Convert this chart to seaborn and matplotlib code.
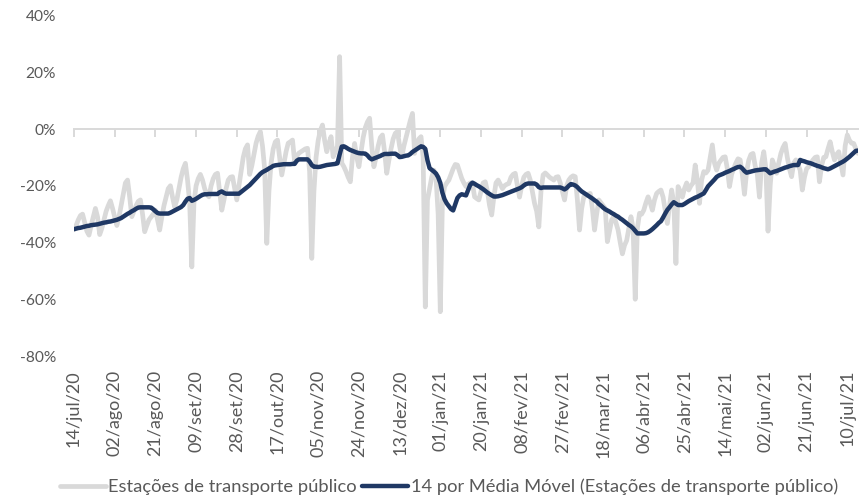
import numpy as np
import pandas as pd
import matplotlib
matplotlib.use("Agg")
import matplotlib.pyplot as plt
import matplotlib.dates as mdates
import seaborn as sns

start_date = "2020-07-14"

gray_values = [
    -35.5, -34, -32, -30.5, -30, -33, -36, -37.4, -34, -31,
    -28, -31, -37.2, -35, -32, -29, -27, -25.3, -28, -31,
    -34, -31, -27, -23, -19, -18, -24, -30.9, -29, -27,
    -25.5, -25, -30, -36.2, -34, -32, -31, -30, -28.6, -32,
    -35.6, -31, -27, -24, -21, -20, -24, -27.5, -25, -21,
    -17, -14, -12.1, -18, -26, -48.6, -26, -20, -17.5, -16,
    -18, -21, -23, -23.9, -20, -17.5, -16, -15.6, -22, -28.6,
    -25, -21, -18, -17, -16.8, -21, -25, -20, -15, -10,
    -7, -5.6, -16, -13, -9, -5, -2.5, -0.9, -6, -14,
    -40.3, -22, -12, -7, -4.5, -3.9, -10, -16.2, -12, -8,
    -5, -4.5, -3.9, -11.5, -9.5, -8.5, -8, -7.5, -7, -6.8,
    -15, -45.6, -22, -10, -4, -0.5, 1.4, -4, -8, -5,
    -2.7, -9.8, -8, -6, 25.5, -12, -13.3, -15, -17, -18.6,
    -10, -5.1, -10, -13.3, -8, -3, 0.5, 2.5, 3.8, -6,
    -13.3, -10, -6, -3, -2.1, -8, -15.6, -11, -7, -3.5,
    -1.5, -0.9, -6, -9.8, -6, -3, 0, 3, 5.5, -8.6,
    -5, -3.5, -2.7, -10, -62.7, -25, -21, -17, -14.5, -17,
    -30, -64.4, -25, -20.3, -19, -18, -16, -14, -12.5, -12.7,
    -15, -17.4, -19, -20.3, -19.5, -19, -19.2, -23.9, -24.5, -25,
    -22, -19, -18.6, -22, -27, -30.3, -24, -19, -18, -19.5,
    -21, -20, -19.5, -19.2, -17, -16, -15.6, -20, -24, -20,
    -17, -16, -15.6, -18, -22, -26.2, -29, -34.5, -22, -16.2,
    -15.5, -16.2, -17, -17.5, -18, -17, -16.8, -19, -22, -25,
    -20, -18, -17, -16.5, -16.8, -25, -35.6, -28, -23.9, -23.5,
    -23, -22.7, -28, -35.6, -30, -25, -26, -27, -28, -39.7,
    -36, -32, -30.9, -33, -35.6, -40, -44, -41, -39.3, -35,
    -30.9, -35, -60, -35, -29.7, -30, -28.6, -26, -23.9, -26,
    -28.6, -25, -22.7, -22, -21.5, -24, -28.6, -33.3, -27, -21.5,
    -26, -47.4, -20.3, -22, -24, -21, -19, -21.5, -20, -19,
    -12.7, -18, -26.2, -18, -15, -15.5, -14.5, -10, -5.6, -12,
    -14.5, -12.1, -11, -10, -9.8, -14, -20.3, -16, -13.9, -12,
    -10.5, -10.9, -16, -23, -15, -11, -9, -8.6, -13, -16,
    -24, -12, -8, -14, -36, -20, -10.9, -13, -15.6, -12,
    -8.6, -6.5, -5.1, -10, -14, -16.8, -12, -10.9, -12.5, -14.5,
    -21.5, -17, -14, -13.3, -12, -10.9, -10, -9.8, -18.6, -13,
    -10, -9.8, -7, -4.5, -8, -10.9, -9, -8, -12, -16.2,
    -6, -2.1, -4, -5, -5.1, -7, -8.6,
]

ma_values = [
    -35.3, -35.1, -34.9, -34.8, -34.6, -34.4, -34.2, -34.1, -33.9, -33.8,
    -33.7, -33.6, -33.4, -33.2, -33.0, -32.9, -32.7, -32.6, -32.4, -32.2,
    -32.0, -31.7, -31.4, -30.9, -30.4, -29.9, -29.5, -29.0, -28.6, -28.1,
    -27.7, -27.6, -27.6, -27.6, -27.6, -27.6, -27.7, -28.3, -29.0, -29.6,
    -29.8, -29.8, -29.8, -29.8, -29.8, -29.5, -29.1, -28.7, -28.3, -27.9,
    -27.5, -26.8, -25.6, -24.6, -24.3, -25.3, -25.0, -24.6, -24.1, -23.6,
    -23.2, -23.0, -23.0, -22.9, -22.9, -22.9, -22.9, -22.9, -22.3, -22.0,
    -22.5, -22.8, -22.8, -22.8, -22.8, -22.8, -22.8, -22.8, -22.2, -21.6,
    -21.0, -20.4, -19.8, -19.0, -18.2, -17.4, -16.6, -15.8, -15.2, -14.8,
    -14.4, -13.9, -13.5, -13.0, -12.8, -12.7, -12.6, -12.5, -12.4, -12.4,
    -12.4, -12.4, -12.3, -12.3, -11.2, -10.7, -10.7, -10.7, -10.7, -10.7,
    -11.5, -12.7, -13.3, -13.3, -13.4, -13.3, -13.1, -12.9, -12.7, -12.6,
    -12.5, -12.4, -12.3, -12.1, -9.0, -6.2, -6.1, -6.5, -7.0, -7.4,
    -7.7, -8.0, -8.3, -8.5, -8.6, -8.6, -8.7, -9.3, -10.2, -10.7,
    -10.4, -10.1, -9.8, -9.5, -9.1, -8.8, -8.8, -8.8, -8.7, -8.7,
    -8.7, -9.2, -9.9, -9.8, -9.6, -9.4, -9.3, -8.8, -8.1, -7.6,
    -7.1, -6.6, -6.1, -6.3, -7.0, -11.0, -13.8, -14.4, -15.0, -15.7,
    -17.0, -19.0, -22.5, -24.8, -26.2, -27.2, -28.2, -28.7, -26.5, -24.3,
    -23.4, -23.0, -23.2, -23.4, -21.5, -19.6, -18.9, -19.3, -19.8, -20.2,
    -20.7, -21.2, -21.8, -22.4, -22.9, -23.4, -23.8, -23.8, -23.7, -23.5,
    -23.3, -23.0, -22.7, -22.4, -22.1, -21.8, -21.5, -21.2, -20.9, -20.5,
    -19.9, -19.4, -19.2, -19.2, -19.2, -19.2, -19.6, -20.5, -20.8, -20.6,
    -20.6, -20.6, -20.6, -20.6, -20.6, -20.6, -20.6, -20.6, -20.9, -21.3,
    -20.8, -20.0, -19.4, -19.6, -19.9, -20.5, -21.3, -22.0, -22.5, -23.0,
    -23.5, -24.0, -24.5, -25.1, -25.6, -26.4, -27.0, -27.7, -28.3, -28.7,
    -29.1, -29.6, -30.0, -30.5, -30.9, -31.5, -32.0, -32.6, -33.2, -33.8,
    -34.3, -35.0, -35.9, -36.8, -36.8, -36.8, -36.8, -36.7, -36.4, -35.9,
    -35.3, -34.6, -33.9, -33.1, -32.5, -31.2, -29.8, -28.5, -27.6, -26.6,
    -25.8, -26.3, -26.8, -26.8, -26.8, -26.4, -25.9, -25.4, -25.0, -24.6,
    -24.2, -23.9, -23.5, -23.1, -22.7, -21.5, -20.2, -19.4, -18.6, -17.8,
    -16.9, -16.4, -16.1, -15.8, -15.4, -15.1, -14.8, -14.4, -14.1, -13.7,
    -13.4, -13.3, -13.9, -14.8, -15.4, -15.2, -15.0, -14.8, -14.6, -14.5,
    -14.4, -14.3, -14.2, -14.2, -14.9, -15.6, -15.3, -15.0, -14.8, -14.5,
    -14.2, -13.9, -13.6, -13.4, -13.1, -12.9, -12.7, -12.7, -12.7, -10.9,
    -11.2, -11.4, -11.7, -11.9, -12.1, -12.4, -12.7, -13.0, -13.2, -13.5,
    -13.8, -14.0, -14.2, -13.9, -13.5, -13.1, -12.7, -12.3, -11.9, -11.5,
    -11.0, -10.4, -9.8, -9.1, -8.4, -7.7, -7.6,
]

tick_labels = [
    "14/jul/20", "02/ago/20", "21/ago/20", "09/set/20", "28/set/20",
    "17/out/20", "05/nov/20", "24/nov/20", "13/dez/20", "01/jan/21",
    "20/jan/21", "08/fev/21", "27/fev/21", "18/mar/21", "06/abr/21",
    "25/abr/21", "14/mai/21", "02/jun/21", "21/jun/21", "10/jul/21",
]
y_ticks = [40, 20, 0, -20, -40, -60, -80]
y_labels = ["40%", "20%", "0%", "-20%", "-40%", "-60%", "-80%"]
series_names = [
    "Estações de transporte público",
    "14 por Média Móvel (Estações de transporte público)",
]

sns.set_theme(style="white")
plt.rcParams["font.family"] = ["Lato", "DejaVu Sans"]
plt.rcParams["axes.unicode_minus"] = False

dates = pd.date_range(start_date, periods=len(gray_values), freq="D")
df = pd.DataFrame({"date": dates, "gray": gray_values, "ma": ma_values})
tick_dates = pd.date_range(start_date, periods=len(tick_labels), freq="19D")
tick_nums = mdates.date2num(tick_dates.to_pydatetime())

GRAY = "#D9D9D9"
NAVY = "#1F3864"
TXT = "#595959"

fig = plt.figure(figsize=(8.6, 4.98), dpi=100)
ax = fig.add_axes([74 / 860, 1 - 356 / 498, (858 - 74) / 860, (356 - 15.5) / 498])

sns.lineplot(data=df, x="date", y="gray", ax=ax, color=GRAY, linewidth=3.4,
             label=series_names[0], solid_joinstyle="round", solid_capstyle="round")
sns.lineplot(data=df, x="date", y="ma", ax=ax, color=NAVY, linewidth=3.2,
             label=series_names[1], solid_joinstyle="round", solid_capstyle="round")

ax.set_xlim(dates[0], dates[-1])
ax.set_ylim(-80, 40)
ax.set_xlabel("")
ax.set_ylabel("")

for s in ["left", "right", "top"]:
    ax.spines[s].set_visible(False)
ax.spines["bottom"].set_position(("data", 0))
ax.spines["bottom"].set_color(GRAY)
ax.spines["bottom"].set_linewidth(1.4)
ax.set_zorder(1)

ax.set_xticks(tick_nums)
ax.tick_params(axis="x", length=6, width=1.4, color=GRAY, direction="out",
               labelbottom=False, bottom=True)
ax.set_yticks(y_ticks)
ax.set_yticklabels(y_labels)
ax.tick_params(axis="y", length=0, pad=13, labelcolor=TXT, labelsize=11.2)

sec = ax.secondary_xaxis(0.0)
sec.set_xticks(tick_nums)
sec.set_xticklabels(tick_labels, rotation=90)
sec.tick_params(axis="x", length=0, pad=10, labelcolor=TXT, labelsize=13)
sec.spines["bottom"].set_visible(False)

handles, labels = ax.get_legend_handles_labels()
ax.get_legend().remove()
leg = fig.legend(handles, labels, loc="center", bbox_to_anchor=(449 / 860, 1 - 487 / 498),
                 ncol=2, frameon=False, fontsize=13.2, handlelength=2.5,
                 handletextpad=0.15, columnspacing=0.3, labelcolor=TXT, borderaxespad=0)

fig.savefig("out.png", dpi=100)
